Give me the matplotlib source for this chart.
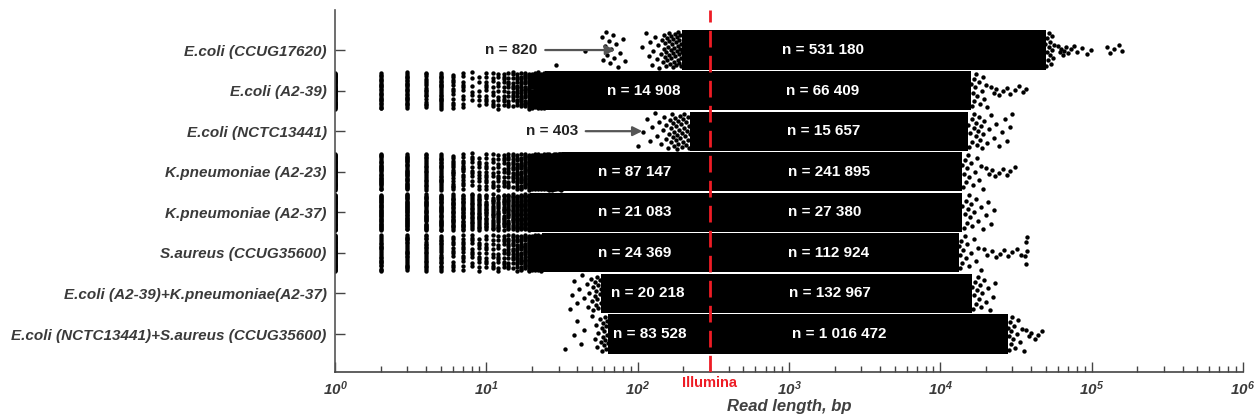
"""
Read length distributions per sample (strip plot, log scale)
with the Illumina read length marked.
"""

import numpy as np
import matplotlib.pyplot as plt


plt.rcParams['font.family'] = ['Liberation Sans', 'DejaVu Sans']
plt.rcParams['mathtext.fontset'] = 'custom'
plt.rcParams['mathtext.rm'] = 'Liberation Sans:italic:bold'
plt.rcParams['mathtext.it'] = 'Liberation Sans:italic:bold'
plt.rcParams['mathtext.bf'] = 'Liberation Sans:italic:bold'


# ============================================================
# Data
# ============================================================

categories = [
    "E.coli (CCUG17620)",
    "E.coli (A2-39)",
    "E.coli (NCTC13441)",
    "K.pneumoniae (A2-23)",
    "K.pneumoniae (A2-37)",
    "S.aureus (CCUG35600)",
    "E.coli (A2-39)+K.pneumoniae(A2-37)",
    "E.coli (NCTC13441)+S.aureus (CCUG35600)",
]

# reads shorter / longer than the Illumina read length
n_short = [820, 14908, 403, 87147, 21083, 24369, 20218, 83528]
n_long = [531180, 66409, 15657, 241895, 27380, 112924, 132967, 1016472]

illumina_bp = 300

# dense part of each distribution (bp)
body_start = [195, 24.5, 222, 31.5, 19.5, 23.5, 57, 64]
body_end = [50000, 16000, 15300, 14000, 14000, 13200, 16200, 28000]

# number of visible reads at lengths 1, 2, 3, ... bp
short_counts = [
    [],
    [60, 26, 26, 18, 24, 12, 10, 6, 6, 10, 9, 9, 10, 10, 11, 12, 14, 16,
     18, 20, 22, 24, 26, 28],
    [],
    [60, 30, 30, 22, 24, 16, 14, 10, 10, 12, 9, 10, 10, 12, 12, 14, 16, 18,
     20, 22, 24, 26, 28, 30, 30, 32, 34, 36, 36, 38, 40],
    [60, 34, 34, 30, 30, 26, 26, 22, 22, 20, 18, 18, 18, 20, 20, 22, 24, 26,
     28],
    [60, 24, 24, 22, 20, 12, 12, 10, 10, 10, 9, 10, 10, 12, 12, 14, 16, 18,
     20, 22, 24, 26, 28],
    [],
    [],
]

# scattered reads on the left edge of the dense part (bp)
left_edge = [
    [29, 45, 58, 59, 61, 62, 63, 65, 66, 67, 69, 70, 72, 74, 77, 80, 82,
     107, 113, 118, 121, 124, 127, 131, 134, 136, 139, 142, 144, 146, 149,
     150, 151, 152, 153, 154, 156, 157, 158, 160, 161, 162, 163, 165, 166,
     167, 168, 170, 171, 172, 174, 175, 176, 177, 179, 180, 181, 182, 184,
     185, 186, 187, 188, 189, 190, 191, 192, 193, 194, 196],
    [],
    [100, 108, 116, 121, 125, 130, 135, 139, 143, 147, 150, 153, 155, 158,
     161, 163, 165, 166, 168, 170, 171, 173, 174, 176, 178, 179, 181, 182,
     184, 186, 188, 190, 191, 193, 195, 197, 199, 200, 202, 204, 206, 208,
     210, 212, 214, 216, 218, 220, 222],
    [],
    [],
    [],
    [36, 37, 38, 40, 41, 43, 44, 46, 47, 48, 49, 50, 51, 51, 52, 52, 53,
     53, 54, 54, 55, 55, 56, 56, 57, 57],
    [33, 38, 40, 42, 44, 50, 52, 53, 54, 55, 56, 57, 58, 58, 59, 59, 60,
     60, 61, 61, 62, 62, 63, 63, 64],
]

# scattered reads on the right edge of the dense part (bp)
right_edge = [
    [49000, 50000, 50500, 51000, 51500, 52000, 52500, 53000, 53500, 54000,
     54500, 55000, 55500, 56500],
    [16000, 16200, 16400, 16600, 16800, 17000, 17300, 17600, 18000, 18400,
     18800, 19200, 19600, 20000, 20500],
    [15300, 15600, 15800, 16100, 16300, 16600, 16800, 17100, 17300, 17600,
     17800, 18100, 18400, 18700, 19000, 19300, 19600, 20300, 21000, 21800,
     22600, 23500, 24400, 25500, 26600, 27800, 29000, 30000],
    [14000, 14200, 14400, 14600, 14800, 15000, 15200, 15600, 16000, 16500,
     17000, 17500, 18000, 18600, 19200],
    [14000, 14250, 14500, 14750, 15000, 15250, 15500, 15800, 16000, 16300,
     16600, 17200, 17800, 18500, 19200, 20000, 20800, 21700, 22600],
    [13200, 13400, 13600, 13800, 14000, 14200, 14500, 14800, 15000, 15500,
     16000, 16600, 17200, 17800, 18500, 36500, 37000, 37000, 37500, 37500],
    [16200, 16400, 16700, 16900, 17200, 17400, 17700, 18000, 18200, 18500,
     18800, 19400, 20000, 20700, 21400, 22200, 23000],
    [28000, 28300, 28600, 28900, 29200, 29500, 29800, 30200, 30500, 31200,
     32000, 32800, 33600, 34500, 35500],
]

# sparse longest reads, close to the middle of each strip (bp)
right_tail = [
    [60000, 61500, 63000, 64500, 66000, 68000, 70000, 73000, 76000, 80000,
     86000, 93000, 99000, 126000, 133000, 140000, 152000, 160000],
    [21500, 22500, 23500, 24500, 26000, 27500, 29000, 31000, 33000, 35000,
     37000],
    [],
    [20000, 21000, 22000, 23000, 24500, 26000, 27500, 29000, 31000],
    [],
    [19500, 20500, 22000, 23500, 25000, 26500, 28000, 30000, 32000, 34000],
    [],
    [37000, 38500, 40000, 42000, 44000, 47000],
]

# where the count labels sit (bp)
short_label_x = [15, 110, 27, 96, 96, 96, 117, 121]
long_label_x = [1680, 1680, 1700, 1840, 1720, 1840, 1860, 2150]
arrow_from = {0: 23.5, 2: 43.5}
arrow_to = {0: 74, 2: 112}


# ============================================================
# Helpers
# ============================================================

def spread(n, amp, shift=0.0):
    """Even (golden ratio) vertical spread of n dots in [-amp, amp]."""
    u = ((np.arange(n) + 1) * 0.6180339887 + shift) % 1.0
    return (u - 0.5) * 2 * amp


def fmt_n(n):
    return "n = " + f"{n:,}".replace(",", " ")


# ============================================================
# Plot
# ============================================================

fig = plt.figure(figsize=(12.58, 4.2), dpi=100)
ax = fig.add_axes([0.2663, 0.1143, 0.7217, 0.8617])
ax.set_xscale('log')

dot = dict(s=10, color='black', linewidths=0, zorder=2)
band = 0.965

for i in range(len(categories)):

    ax.barh(i, body_end[i] - body_start[i], left=body_start[i],
            height=band, color='black', zorder=1)

    for k, c in enumerate(short_counts[i]):
        ax.scatter(np.full(c, k + 1.0), i + spread(c, 0.45, 0.13 * k), **dot)

    if left_edge[i]:
        xs = np.array(left_edge[i], dtype=float)
        ax.scatter(xs, i + spread(len(xs), 0.45, 0.3), **dot)

    xs = np.array(right_edge[i], dtype=float)
    ax.scatter(xs, i + spread(len(xs), 0.44, 0.7), **dot)

    if right_tail[i]:
        xs = np.array(right_tail[i], dtype=float)
        ax.scatter(xs, i + spread(len(xs), 0.12, 0.5), **dot)

    # count labels
    ax.text(long_label_x[i], i, fmt_n(n_long[i]), color='white',
            fontsize=11, fontweight='bold', ha='center', va='center',
            zorder=6)
    if i in arrow_from:
        ax.text(arrow_from[i] * 0.93, i, fmt_n(n_short[i]), color='#222222',
                fontsize=11, fontweight='bold', ha='right', va='center',
                zorder=6)
        ax.annotate('', xy=(arrow_to[i], i), xytext=(arrow_from[i], i),
                    arrowprops=dict(arrowstyle='-|>', color='#555555',
                                    lw=1.6, mutation_scale=14),
                    zorder=6)
    else:
        ax.text(short_label_x[i], i, fmt_n(n_short[i]), color='white',
                fontsize=11, fontweight='bold', ha='center', va='center',
                zorder=6)

# Illumina read length
ax.axvline(illumina_bp, color='#ee1c25', lw=2.0, ls=(0, (6, 3)), zorder=5)
ax.text(illumina_bp, -0.012, 'Illumina', transform=ax.get_xaxis_transform(),
        color='#ee1c25', fontsize=10.5, fontweight='bold',
        ha='center', va='top')

# Axes
ax.set_xlim(1, 1e6)
ax.set_ylim(7.936, -0.985)

ax.set_xticks([10.0 ** k for k in range(7)])
ax.set_xticklabels([f'$10^{{{k}}}$' for k in range(7)])
ax.set_yticks(range(len(categories)))
ax.set_yticklabels(categories, fontsize=11, fontweight='bold',
                   fontstyle='italic', color='#3a3a3a')

ax.tick_params(axis='x', which='major', direction='in', length=7,
               width=1, color='#444444', labelsize=11,
               labelcolor='#3a3a3a', pad=5)
ax.tick_params(axis='x', which='minor', direction='in', length=4,
               width=1, color='#444444')
ax.tick_params(axis='y', direction='in', length=7, width=1,
               color='#444444', pad=6)

for side in ['top', 'right']:
    ax.spines[side].set_visible(False)
ax.spines['left'].set_color('#555555')
ax.spines['bottom'].set_color('#444444')
ax.spines['left'].set_linewidth(1.2)
ax.spines['bottom'].set_linewidth(1.2)

ax.set_xlabel('Read length, bp', fontsize=12, fontweight='bold',
              fontstyle='italic', color='#404040', labelpad=1)

fig.savefig('out.png', dpi=100)
